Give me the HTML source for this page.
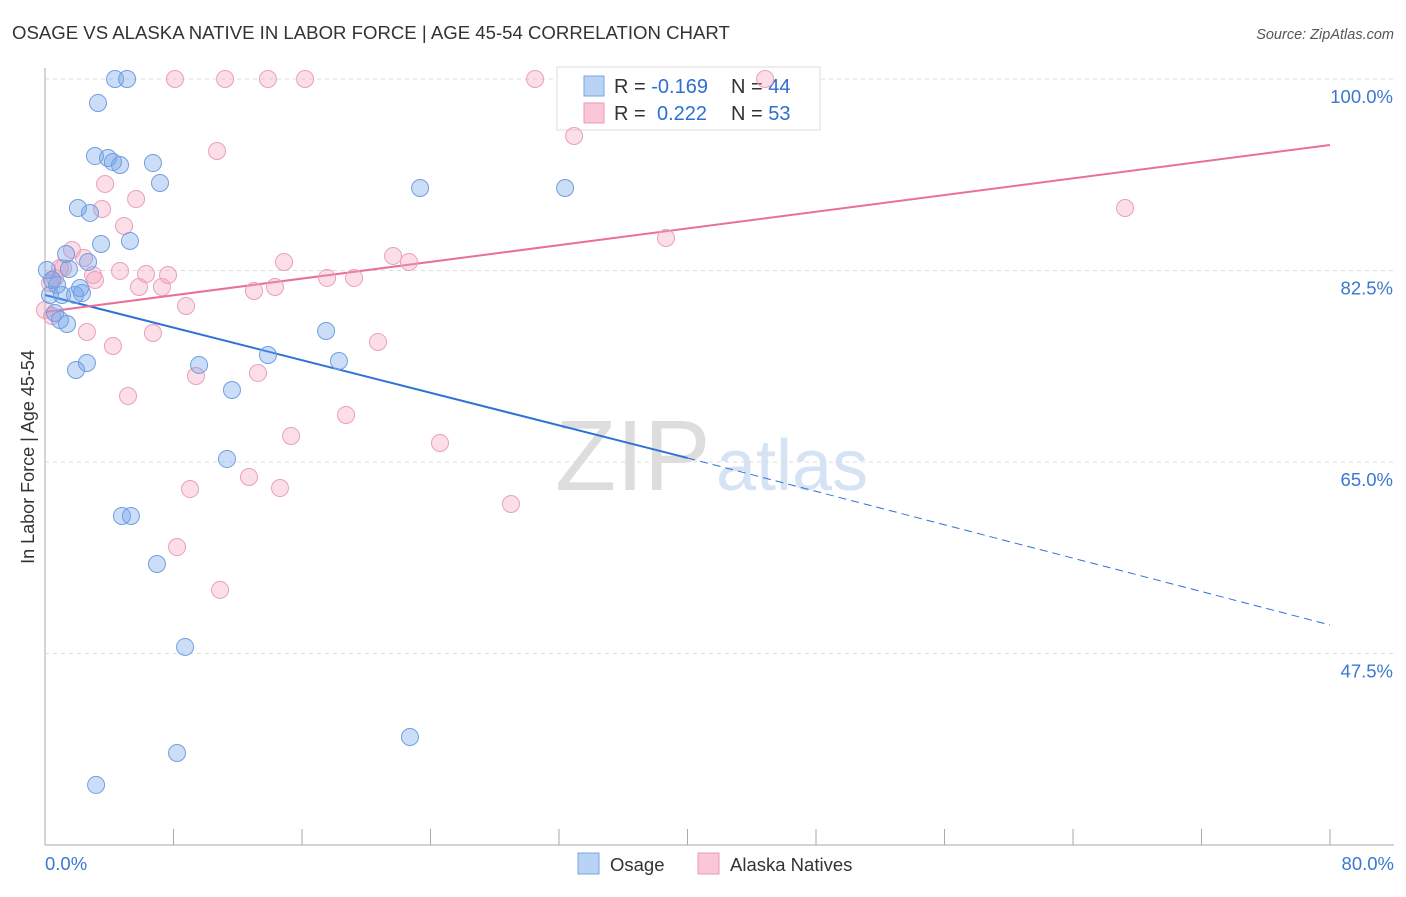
<!DOCTYPE html>
<html><head><meta charset="utf-8"><style>
body{margin:0;background:#fff;font-family:"Liberation Sans",sans-serif;}
svg text{font-family:"Liberation Sans",sans-serif;}
</style></head><body>
<svg id="chart" width="1406" height="892" viewBox="0 0 1406 892">
<text x="12" y="39" font-size="18.6" fill="#333">OSAGE VS ALASKA NATIVE IN LABOR FORCE | AGE 45-54 CORRELATION CHART</text>
<text x="1394" y="39" font-size="14.5" fill="#555" font-style="italic" text-anchor="end">Source: ZipAtlas.com</text>
<text x="555" y="490" font-size="100" fill="#ddd" font-family="Liberation Serif">ZIP</text>
<text x="716" y="490" font-size="72" fill="#d5e3f5">atlas</text>
<g id="grid"></g><g id="axes"></g><g id="trend"></g>
<g>
<rect x="557" y="67" width="263" height="63" fill="#fff" stroke="#ddd"/>
<rect x="584" y="76" width="20" height="20" fill="#b9d3f5" stroke="#7aa6e3"/>
<rect x="584" y="103" width="20" height="20" fill="#f9c7d8" stroke="#ec9ab8"/>
<text x="614" y="93" font-size="20" fill="#333">R = <tspan fill="#2f6fd0">-0.169</tspan><tspan x="731">N = </tspan><tspan fill="#2f6fd0">44</tspan></text>
<text x="614" y="120" font-size="20" fill="#333">R = <tspan x="657" fill="#2f6fd0">0.222</tspan><tspan x="731">N = </tspan><tspan fill="#2f6fd0">53</tspan></text>
</g>
<g id="points"></g>
<text transform="translate(34,457) rotate(-90)" font-size="18" fill="#333" text-anchor="middle">In Labor Force | Age 45-54</text>
<text x="45" y="870" font-size="18.5" fill="#3a78d0">0.0%</text>
<text x="1394" y="870" font-size="18.5" fill="#3a78d0" text-anchor="end">80.0%</text>
<g>
<rect x="578" y="853" width="21" height="21" fill="#b9d3f5" stroke="#7aa6e3"/>
<text x="610" y="871" font-size="18.5" fill="#333">Osage</text>
<rect x="698" y="853" width="21" height="21" fill="#f9c7d8" stroke="#ec9ab8"/>
<text x="730" y="871" font-size="18.5" fill="#333">Alaska Natives</text>
</g>
</svg>
<script>
const yTicks=[100,82.5,65,47.5];
const yTickLabels=["100.0%","82.5%","65.0%","47.5%"];
const xTicks=[0,8,16,24,32,40,48,56,64,72,80];
const osageX=[4.36,5.11,3.30,3.11,3.92,4.23,4.67,6.72,7.16,2.05,2.80,23.35,32.38,3.49,5.29,1.31,1.49,2.68,0.12,0.44,0.75,0.31,1.06,1.87,2.30,2.18,0.62,0.93,1.37,17.50,13.88,18.30,2.61,9.59,1.93,11.64,11.33,4.79,5.35,6.97,8.72,22.72,8.22,3.18];
const osageY=[100,100,97.81,92.96,92.78,92.42,92.14,92.32,90.50,88.21,87.76,90.04,90.04,84.92,85.20,84.01,82.64,83.28,82.55,81.63,81.18,80.26,80.26,80.26,80.44,80.90,78.62,77.98,77.61,76.97,74.78,74.23,74.05,73.87,73.41,71.58,65.28,60.07,60.07,55.68,48.10,39.87,38.41,35.49];
const alaskaX=[8.09,11.21,13.88,16.19,30.51,44.83,32.94,10.71,3.74,5.67,3.55,67.24,4.92,38.66,1.68,2.43,1.12,2.99,4.67,6.29,7.66,14.88,21.67,22.66,17.56,19.24,5.85,7.28,13.01,14.32,3.11,0.62,0.44,8.78,2.61,6.72,4.23,20.73,9.40,13.26,5.17,18.74,15.32,24.59,12.70,9.03,14.63,29.01,8.22,10.90,0.31,0.93,0];
const alaskaY=[100,100,100,100,100,100,94.79,93.42,90.41,89.03,88.12,88.21,86.57,85.47,84.37,83.64,82.73,82.09,82.46,82.18,82.09,83.28,83.83,83.28,81.82,81.82,80.99,80.99,80.63,80.99,81.63,81.82,78.34,79.26,76.88,76.79,75.60,75.97,72.86,73.13,71.03,69.30,67.38,66.74,63.63,62.53,62.62,61.16,57.23,53.31,81.36,82.73,78.89];
const osageTrend=[80.26,65.37,50.11]; // y at x=0,40,80
const alaskaTrend=[78.71,93.97]; // y at x=0,80
const NS="http://www.w3.org/2000/svg";
function sx(v){return 45+v*(1285/80);}
function sy(v){return 79+(100-v)*10.943;}
function mk(tag,attrs,parent){const e=document.createElementNS(NS,tag);for(const k in attrs)e.setAttribute(k,attrs[k]);document.getElementById(parent).appendChild(e);return e;}
yTicks.forEach((t,i)=>{
 const l=mk('line',{x1:45,x2:1394,y1:sy(t),y2:sy(t),stroke:'#ddd','stroke-dasharray':'4,4'},'grid');
 
 
 const tx=mk('text',{x:1393,y:sy(t)+24,'font-size':18.5,fill:'#3a78d0','text-anchor':'end'},'grid');
 tx.textContent=yTickLabels[i];
 
 
});
const ya=mk('line',{x1:45,x2:45,y1:68,y2:845,stroke:'#aaa'},'axes');


const xa=mk('line',{x1:45,x2:1394,y1:845,y2:845,stroke:'#aaa'},'axes');


xTicks.forEach(t=>{
 const l=mk('line',{x1:sx(t),x2:sx(t),y1:829,y2:845,stroke:'#aaa'},'axes');
 
 
});
function pts(xs,ys,fill,stroke,name){
 xs.forEach((x,i)=>{
  const c=mk('circle',{cx:sx(x),cy:sy(ys[i]),r:8.5,fill:fill,stroke:stroke,'stroke-width':1},'points');
  
  
 });
}
pts(alaskaX,alaskaY,'rgba(244,160,190,0.35)','#eaa0bb','alaska-point');
pts(osageX,osageY,'rgba(110,160,232,0.35)','#6f9fe0','osage-point');
const t1=mk('line',{x1:sx(0),y1:sy(osageTrend[0]),x2:sx(40),y2:sy(osageTrend[1]),stroke:'#2f72d6','stroke-width':2},'trend');


const t2=mk('line',{x1:sx(40),y1:sy(osageTrend[1]),x2:sx(80),y2:sy(osageTrend[2]),stroke:'#2f72d6','stroke-width':1,'stroke-dasharray':'8,5'},'trend');


const t3=mk('line',{x1:sx(0),y1:sy(alaskaTrend[0]),x2:sx(80),y2:sy(alaskaTrend[1]),stroke:'#e8709a','stroke-width':2},'trend');


</script>
</body></html>
